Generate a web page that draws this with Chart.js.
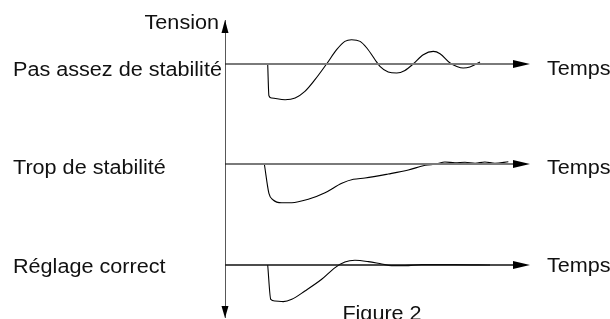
<!DOCTYPE html>
<html>
<head>
<meta charset="utf-8">
<script src="https://cdn.jsdelivr.net/npm/chart.js@4/dist/chart.umd.min.js"></script>
<style>
  html, body { margin: 0; padding: 0; background: #fff; }
  #chart { display: block; }
</style>
</head>
<body>
<canvas id="chart" width="610" height="319"></canvas>
<script>
'use strict';

/* ---- Data ---- */
const rowLabels = ['Pas assez de stabilité', 'Trop de stabilité', 'Réglage correct'];
const rowOffsets = [0, -100, -201];
const axisTitle = 'Tension';
const timeLabel = 'Temps';
const caption = 'Figure 2';

// Pas assez de stabilité
const time1 = [14.0, 14.4, 15.3, 19.7, 23.0, 26.2, 29.5, 33.3, 36.6, 39.3, 41.5, 44.3, 46.5, 49.2, 50.8, 53.5, 56.3, 59.0, 61.7, 65.0, 68.3, 70.5, 73.8, 76.0, 78.1, 80.3, 83.6];
const tension1 = [0, -31.7, -34, -35.7, -34, -27.4, -15.7, 0, 14.3, 22.6, 24.3, 22.6, 16, 4.3, -2.4, -8, -9, -6.4, 0, 9.3, 12.6, 10.3, 1, -2.4, -4, -3, 2];

// Trop de stabilité
const time2 = [12.9, 14.4, 15.8, 18.6, 21.9, 27.3, 32.8, 38.3, 42.1, 45.9, 53.5, 60.1, 65.6, 69.4, 72.1, 75.4, 78.7, 82.0, 85.2, 88.5, 92.9];
const tension2 = [0, -29.3, -36, -38.7, -38.7, -35.3, -28.7, -19.3, -15.3, -14, -10, -6, -1.3, 0, 2, 1.3, 1.7, 0.7, 2, 0.7, 2.3];

// Réglage correct
const time3 = [14.0, 15.0, 16.4, 19.1, 21.9, 26.2, 31.7, 36.1, 39.3, 42.6, 47.0, 51.4, 54.6, 59.0, 64.5, 71.0, 75.4, 86.9];
const tension3 = [0, -34.3, -36, -36.6, -34.3, -26, -14.3, -2.6, 3, 4.7, 3.4, 1, -0.6, -0.6, 0.4, 0.4, 0.4, 0];

const timeMax = 100;
const tensionMin = -254;
const tensionMax = 44;

/* ---- Helpers ---- */
function toPoints(times, values, offset) {
  return times.map((t, i) => ({ x: t, y: values[i] + offset }));
}

// text is a little wider than plain Arial in the scan
function drawText(ctx, text, x, y, align) {
  ctx.save();
  ctx.translate(x, y);
  ctx.scale(1.08, 1);
  ctx.textAlign = align;
  ctx.fillText(text, 0, 0);
  ctx.restore();
}

const FONT = '20px "Liberation Sans", Arial, sans-serif';
const baseColors = ['#7a7a7a', '#7a7a7a', '#111'];
const baseWidths = [2, 2, 1.6];

const datasets = [];

// vertical Tension axis
datasets.push({
  data: [{ x: 0, y: tensionMax }, { x: 0, y: tensionMin }],
  borderColor: '#222', borderWidth: 1.5, showLine: true, pointRadius: 0
});

// time axes (one per row)
rowOffsets.forEach((off, i) => {
  datasets.push({
    data: [{ x: 0, y: off }, { x: timeMax - 3, y: off }],
    borderColor: baseColors[i], borderWidth: baseWidths[i], showLine: true, pointRadius: 0
  });
});

// response curves
[[time1, tension1], [time2, tension2], [time3, tension3]].forEach(([t, v], i) => {
  datasets.push({
    data: toPoints(t, v, rowOffsets[i]),
    borderColor: '#000', borderWidth: 1.1, showLine: true, pointRadius: 0,
    cubicInterpolationMode: 'monotone'
  });
});

/* ---- Arrows & text ---- */
const annotations = {
  id: 'annotations',
  afterDatasetsDraw(chart) {
    const { ctx, scales: { x, y } } = chart;
    const x0 = x.getPixelForValue(0);
    const xTip = x.getPixelForValue(timeMax);
    ctx.save();
    ctx.fillStyle = '#000';

    // vertical arrowheads
    const yTop = y.getPixelForValue(tensionMax);
    const yBot = y.getPixelForValue(tensionMin);
    ctx.beginPath();
    ctx.moveTo(x0, yTop); ctx.lineTo(x0 - 3.5, yTop + 13); ctx.lineTo(x0 + 3.5, yTop + 13);
    ctx.closePath(); ctx.fill();
    ctx.beginPath();
    ctx.moveTo(x0, yBot); ctx.lineTo(x0 - 3.5, yBot - 12); ctx.lineTo(x0 + 3.5, yBot - 12);
    ctx.closePath(); ctx.fill();

    // horizontal arrowheads
    rowOffsets.forEach(off => {
      const yr = y.getPixelForValue(off);
      ctx.beginPath();
      ctx.moveTo(xTip, yr); ctx.lineTo(xTip - 17, yr - 4); ctx.lineTo(xTip - 17, yr + 4);
      ctx.closePath(); ctx.fill();
    });

    // texts
    ctx.font = FONT;
    ctx.fillStyle = '#111';
    ctx.textBaseline = 'alphabetic';
    const labelShift = [11.7, 10, 7.6];
    const tempsShift = [10.7, 10.3, 6.6];
    rowOffsets.forEach((off, i) => {
      const yr = y.getPixelForValue(off);
      drawText(ctx, rowLabels[i], 13, yr + labelShift[i], 'left');
      drawText(ctx, timeLabel, xTip + 17, yr + tempsShift[i], 'left');
    });
    drawText(ctx, axisTitle, x0 - 6, yTop + 8.5, 'right');
    drawText(ctx, caption, 382, 319.5, 'center');
    ctx.restore();
  }
};

new Chart(document.getElementById('chart'), {
  type: 'scatter',
  data: { datasets },
  options: {
    responsive: false,
    devicePixelRatio: 1,
    animation: false,
    layout: { padding: { left: 225, right: 80, top: 20, bottom: 1 } },
    plugins: { legend: { display: false }, tooltip: { enabled: false } },
    scales: {
      x: { type: 'linear', display: false, min: 0, max: timeMax },
      y: { type: 'linear', display: false, min: tensionMin, max: tensionMax }
    }
  },
  plugins: [annotations]
});
</script>
</body>
</html>
